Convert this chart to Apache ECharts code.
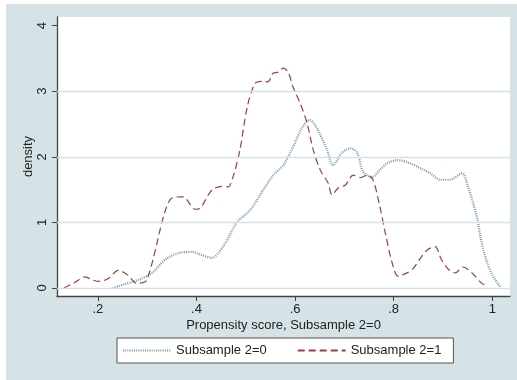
<!DOCTYPE html>
<html>
<head>
<meta charset="utf-8">
<script src="https://cdn.jsdelivr.net/npm/echarts@6/dist/echarts.min.js"></script>
<style>
html,body{margin:0;padding:0;background:#ffffff;}
#chart{width:517px;height:380px;}
</style>
</head>
<body>
<div id="chart"></div>
<script>
// Subsample 2=0 (blue dotted) kernel density points [propensity score, density]
const sub0X = [0.230, 0.255, 0.281, 0.310, 0.336, 0.362, 0.391, 0.411, 0.431, 0.458, 0.482, 0.509, 0.535, 0.556, 0.576, 0.596, 0.614, 0.630, 0.646, 0.665, 0.677, 0.695, 0.712, 0.726, 0.738, 0.756, 0.772, 0.789, 0.809, 0.833, 0.853, 0.874, 0.894, 0.914, 0.939, 0.951, 0.961, 0.970, 0.976, 0.982, 0.990, 1.000, 1.010, 1.016];
const sub0Y = [0.00, 0.06, 0.12, 0.23, 0.43, 0.53, 0.55, 0.50, 0.46, 0.68, 1.00, 1.19, 1.49, 1.72, 1.87, 2.15, 2.44, 2.56, 2.41, 2.10, 1.87, 2.06, 2.13, 2.06, 1.77, 1.69, 1.80, 1.91, 1.95, 1.90, 1.83, 1.75, 1.65, 1.65, 1.75, 1.54, 1.30, 1.04, 0.78, 0.58, 0.38, 0.20, 0.08, 0.02];
// Subsample 2=1 (red dashed)
const sub1X = [0.131, 0.152, 0.174, 0.190, 0.204, 0.222, 0.241, 0.260, 0.279, 0.299, 0.335, 0.350, 0.373, 0.397, 0.408, 0.431, 0.452, 0.464, 0.474, 0.488, 0.503, 0.519, 0.535, 0.545, 0.555, 0.566, 0.576, 0.586, 0.596, 0.610, 0.624, 0.637, 0.651, 0.667, 0.675, 0.687, 0.702, 0.718, 0.732, 0.746, 0.758, 0.772, 0.783, 0.797, 0.809, 0.827, 0.840, 0.854, 0.868, 0.884, 0.897, 0.913, 0.925, 0.941, 0.959, 0.976, 0.990];
const sub1Y = [0.00, 0.08, 0.17, 0.12, 0.10, 0.15, 0.27, 0.20, 0.07, 0.12, 1.14, 1.37, 1.39, 1.20, 1.22, 1.49, 1.55, 1.54, 1.69, 2.10, 2.76, 3.12, 3.15, 3.14, 3.27, 3.29, 3.35, 3.29, 3.06, 2.82, 2.52, 2.10, 1.80, 1.60, 1.42, 1.52, 1.57, 1.72, 1.68, 1.72, 1.65, 1.24, 0.84, 0.38, 0.18, 0.23, 0.30, 0.45, 0.58, 0.63, 0.43, 0.27, 0.23, 0.32, 0.23, 0.09, 0.02];
const xTicks = [0.2, 0.4, 0.6, 0.8, 1.0];
const yTicks = [0, 1, 2, 3, 4];
const yGrid = [0, 1, 2, 3];
const seriesNames = ['Subsample 2=0', 'Subsample 2=1'];
const xTitle = 'Propensity score, Subsample 2=0';
const yTitle = 'density';

const pairs = (xs, ys) => xs.map((x, i) => [x, ys[i]]);
const fmtX = v => {
  if (Math.abs(v - 1) < 1e-9) return '1';
  return String(Math.round(v * 10) / 10).replace(/^0/, '');
};
const font = 'Liberation Sans, Arial, sans-serif';
const bg = '#d6e3e6';
const chart = echarts.init(document.getElementById('chart'), null, {renderer: 'canvas'});
chart.setOption({
  backgroundColor: bg,
  animation: false,
  graphic: [
    {type: 'rect', z: 100, silent: true, shape: {x: 0, y: 0, width: 517, height: 4}, style: {fill: '#ffffff'}},
    {type: 'rect', z: 100, silent: true, shape: {x: 0, y: 0, width: 6, height: 380}, style: {fill: '#ffffff'}}
  ],
  grid: {left: 57, top: 17, right: 7, bottom: 84, show: true, backgroundColor: '#ffffff', borderWidth: 0},
  xAxis: {
    type: 'value', min: 0.117, max: 1.036,
    name: xTitle, nameLocation: 'middle', nameGap: 23, nameMoveOverlap: false,
    nameTextStyle: {fontFamily: font, fontSize: 13, color: '#222'},
    axisLine: {show: true, onZero: false, lineStyle: {color: '#444', width: 1.3}},
    axisTick: {show: true, customValues: xTicks, length: 5, lineStyle: {color: '#444'}},
    axisLabel: {customValues: xTicks, formatter: fmtX, fontFamily: font, fontSize: 13, color: '#222', margin: 7},
    splitLine: {show: false}
  },
  yAxis: {
    type: 'value', min: -0.122, max: 4.13,
    name: yTitle, nameLocation: 'middle', nameGap: 22, nameRotate: 90, nameMoveOverlap: false,
    nameTextStyle: {fontFamily: font, fontSize: 13, color: '#222'},
    axisLine: {show: true, onZero: false, lineStyle: {color: '#444', width: 1.3}},
    axisTick: {show: true, customValues: yTicks, length: 5, lineStyle: {color: '#444'}},
    axisLabel: {customValues: yTicks, rotate: 90, fontFamily: font, fontSize: 13, color: '#222', margin: 8},
    splitLine: {show: false}
  },
  legend: {
    left: 117, top: 338, width: 334,
    data: seriesNames,
    itemWidth: 48, itemHeight: 13, itemGap: 30,
    padding: [6, 12, 6, 5],
    backgroundColor: '#ffffff', borderColor: '#555', borderWidth: 1, borderRadius: 0,
    textStyle: {fontFamily: font, fontSize: 13, color: '#222'},
    itemStyle: {opacity: 0}
  },
  series: [
    {
      name: seriesNames[0], type: 'line', data: pairs(sub0X, sub0Y),
      showSymbol: false, symbol: 'none', smooth: 0.3,
      lineStyle: {color: '#7a95b6', width: 2.2, type: [1, 1.2]},
      itemStyle: {color: '#7a95b6'},
      markLine: {
        silent: true, symbol: 'none', label: {show: false},
        lineStyle: {color: '#d6e3e6', width: 1.3, type: 'solid'},
        emphasis: {disabled: true},
        data: yGrid.map(v => ({yAxis: v}))
      },
      z: 3
    },
    {
      name: seriesNames[1], type: 'line', data: pairs(sub1X, sub1Y),
      showSymbol: false, symbol: 'none', smooth: 0.3,
      lineStyle: {color: '#9a3e48', width: 1.2, type: [7, 4]},
      itemStyle: {color: '#9a3e48'},
      z: 4
    }
  ]
});
</script>
</body>
</html>
